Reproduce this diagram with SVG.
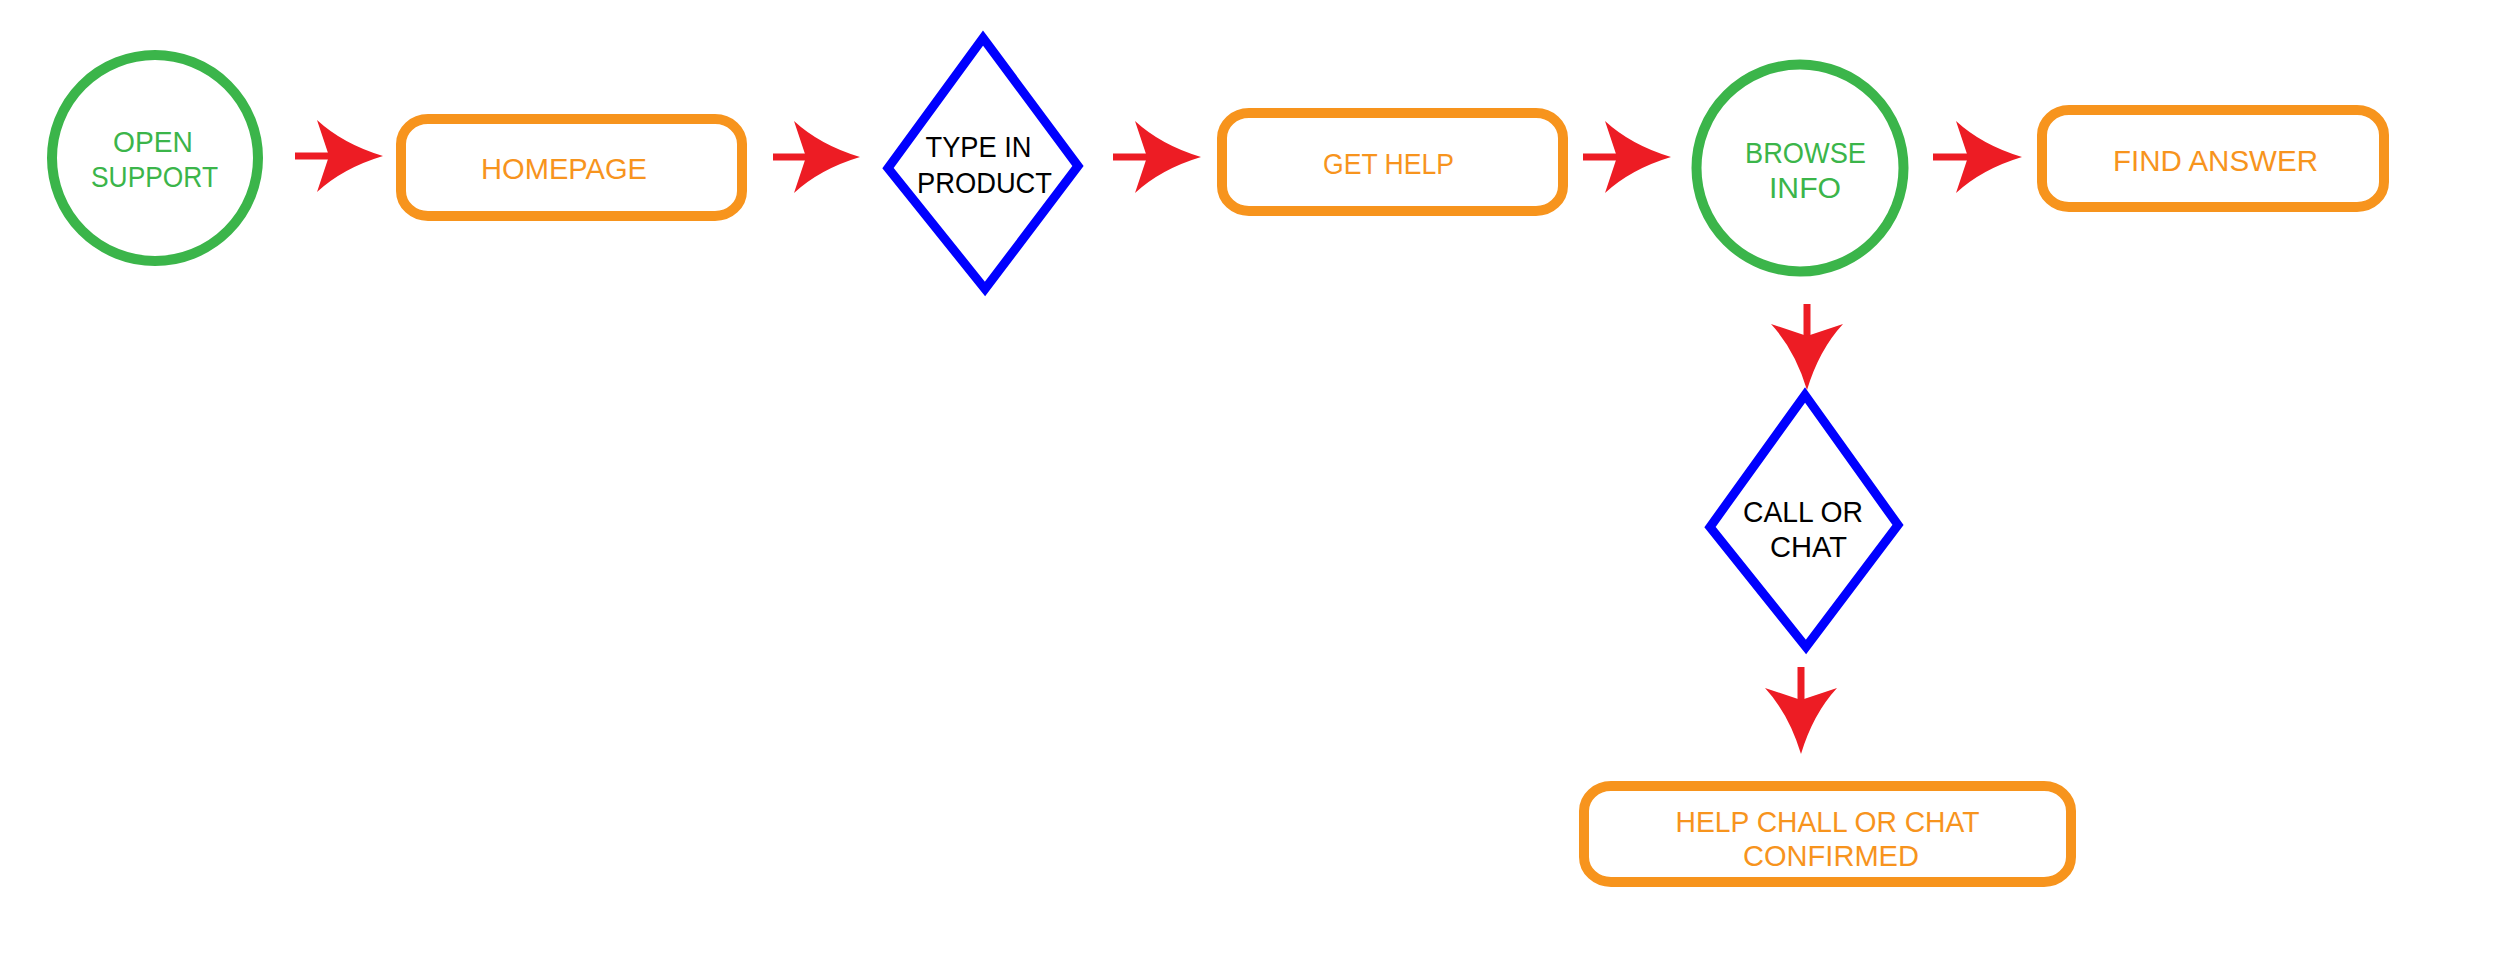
<svg xmlns="http://www.w3.org/2000/svg" xmlns:xlink="http://www.w3.org/1999/xlink" width="2500" height="956" viewBox="0 0 2500 956">
<style>
.bg{fill:#ffffff}
.circ{fill:none;stroke:#3bb54a;stroke-width:10}
.box{fill:none;stroke:#f7941d;stroke-width:10}
.dia{fill:none;stroke:#0000ff;stroke-width:9;stroke-linejoin:miter}
.shaft{stroke:#ed1c24;stroke-width:7;fill:none}
.head{fill:#ed1c24}
text{font-family:"Liberation Sans",Arial,sans-serif;font-size:30px;text-anchor:middle}
.tg{fill:#3bb54a}
.to{fill:#f7941d}
.tk{fill:#000000}
</style>
<defs>
<path id="head" class="head" d="M0,0 Q-40,-12 -66,-36 L-54,0 L-66,36 Q-40,12 0,0 Z"/>
</defs>
<rect class="bg" x="0" y="0" width="2500" height="956"/>

<g id="connectors">
  <line class="shaft" x1="295" y1="156" x2="331" y2="156"/>
  <use xlink:href="#head" href="#head" transform="translate(383,156)"/>
  <line class="shaft" x1="773" y1="157" x2="808" y2="157"/>
  <use xlink:href="#head" href="#head" transform="translate(860,157)"/>
  <line class="shaft" x1="1113" y1="157" x2="1149" y2="157"/>
  <use xlink:href="#head" href="#head" transform="translate(1201,157)"/>
  <line class="shaft" x1="1583" y1="157" x2="1619" y2="157"/>
  <use xlink:href="#head" href="#head" transform="translate(1671,157)"/>
  <line class="shaft" x1="1933" y1="157" x2="1970" y2="157"/>
  <use xlink:href="#head" href="#head" transform="translate(2022,157)"/>
  <line class="shaft" x1="1807" y1="304" x2="1807" y2="340"/>
  <use xlink:href="#head" href="#head" transform="translate(1807,390) rotate(90)"/>
  <line class="shaft" x1="1801" y1="667" x2="1801" y2="703"/>
  <use xlink:href="#head" href="#head" transform="translate(1801,754) rotate(90)"/>
</g>

<g id="open-support">
  <circle class="circ" cx="155" cy="158" r="103"/>
  <text class="tg" x="153" y="152" textLength="80" lengthAdjust="spacingAndGlyphs">OPEN</text>
  <text class="tg" x="154.5" y="187" textLength="127" lengthAdjust="spacingAndGlyphs">SUPPORT</text>
</g>

<g id="homepage">
  <rect class="box" x="401" y="119" width="341" height="97" rx="27" ry="25"/>
  <text class="to" x="564" y="179" textLength="166" lengthAdjust="spacingAndGlyphs">HOMEPAGE</text>
</g>

<g id="type-in-product">
  <path class="dia" d="M983,38 L1078,166 L985,289 L888,168 Z"/>
  <text class="tk" x="978.5" y="157" textLength="106" lengthAdjust="spacingAndGlyphs">TYPE IN</text>
  <text class="tk" x="984.5" y="193" textLength="135" lengthAdjust="spacingAndGlyphs">PRODUCT</text>
</g>

<g id="get-help">
  <rect class="box" x="1222" y="113" width="341" height="98" rx="27" ry="25"/>
  <text class="to" x="1388.5" y="174" textLength="131" lengthAdjust="spacingAndGlyphs">GET HELP</text>
</g>

<g id="browse-info">
  <circle class="circ" cx="1800" cy="168" r="103.5"/>
  <text class="tg" x="1805.5" y="163" textLength="121" lengthAdjust="spacingAndGlyphs">BROWSE</text>
  <text class="tg" x="1805" y="198" textLength="72" lengthAdjust="spacingAndGlyphs">INFO</text>
</g>

<g id="find-answer">
  <rect class="box" x="2042" y="110" width="342" height="97" rx="27" ry="25"/>
  <text class="to" x="2215.5" y="171" textLength="205" lengthAdjust="spacingAndGlyphs">FIND ANSWER</text>
</g>

<g id="call-or-chat">
  <path class="dia" d="M1805,395 L1898,525 L1806,647 L1710,527 Z"/>
  <text class="tk" x="1803" y="522" textLength="120" lengthAdjust="spacingAndGlyphs">CALL OR</text>
  <text class="tk" x="1808.5" y="557" textLength="77" lengthAdjust="spacingAndGlyphs">CHAT</text>
</g>

<g id="help-confirmed">
  <rect class="box" x="1584" y="786" width="487" height="96" rx="27" ry="25"/>
  <text class="to" x="1827.5" y="832" textLength="304" lengthAdjust="spacingAndGlyphs">HELP CHALL OR CHAT</text>
  <text class="to" x="1831" y="866" textLength="176" lengthAdjust="spacingAndGlyphs">CONFIRMED</text>
</g>
</svg>
